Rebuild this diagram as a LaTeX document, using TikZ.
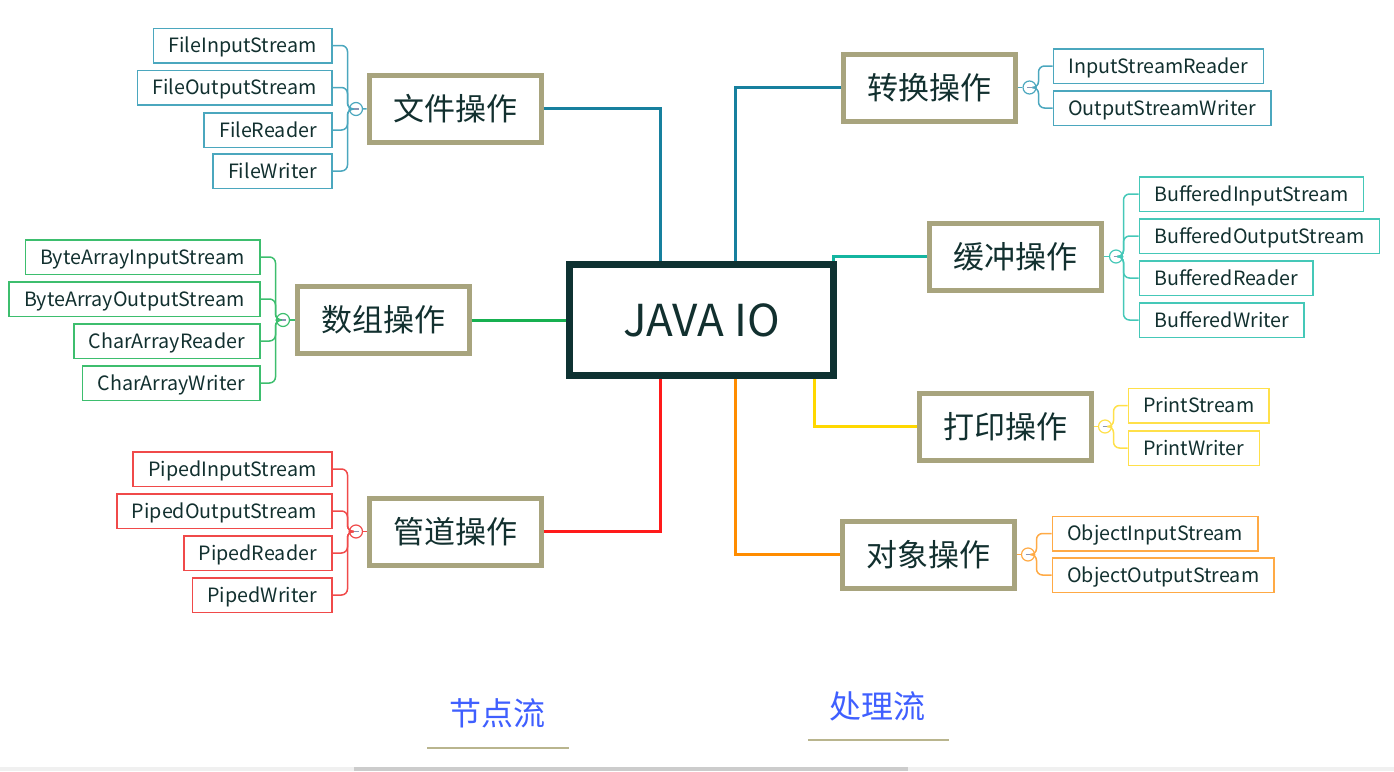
\documentclass[tikz,border=0pt]{standalone}
\usepackage{fontspec}
\setmainfont{Noto Sans CJK SC}
\usetikzlibrary{positioning,calc}

\definecolor{rootline}{HTML}{0E3232}
\definecolor{topicline}{HTML}{A8A47E}
\definecolor{inktext}{HTML}{12302F}
\definecolor{fileblue}{HTML}{17809E}
\definecolor{fileleaf}{HTML}{4BA7BE}
\definecolor{arraygreen}{HTML}{16B050}
\definecolor{arrayleaf}{HTML}{3DBE6E}
\definecolor{pipered}{HTML}{FF1A1A}
\definecolor{pipeleaf}{HTML}{F04A4A}
\definecolor{buffteal}{HTML}{14B5A0}
\definecolor{buffleaf}{HTML}{45C8B8}
\definecolor{printyellow}{HTML}{FFD800}
\definecolor{printleaf}{HTML}{FFE04A}
\definecolor{objorange}{HTML}{FF8C00}
\definecolor{objleaf}{HTML}{FFAA45}
\definecolor{flowblue}{HTML}{3F5FFF}
\definecolor{flowline}{HTML}{B9B58E}
\definecolor{minusgray}{HTML}{8A94B4}

\newcommand{\foldmark}{\textcolor{minusgray}{\rule{5pt}{1.2pt}}}

\begin{document}
\begin{tikzpicture}[
    x=1pt, y=-1pt,
    root/.style={rectangle, draw=rootline, line width=7pt, minimum width=264pt, minimum height=111pt, font=\fontsize{44}{48}\selectfont, text=inktext},
    topic/.style={rectangle, draw=topicline, line width=5pt, fill=white, minimum width=172pt, minimum height=67pt, font=\fontsize{31}{34}\selectfont, text=inktext},
    leaf/.style={rectangle, draw=#1, line width=1.5pt, minimum height=34.5pt, inner xsep=15pt, text height=14.4pt, text depth=0pt, font=\fontsize{19.7}{22}\selectfont, text=inktext},
    fold/.style={circle, draw=#1, line width=1.2pt, fill=white, minimum size=13pt, inner sep=0pt},
    branch/.style={line width=3pt, draw=#1},
    twig/.style={line width=1.5pt, draw=#1, rounded corners=6pt},
    flow/.style={font=\fontsize{32}{36}\selectfont, text=flowblue}
]
\useasboundingbox (0,0) rectangle (1394,771);

% centre and main topics
\node[root] (root) at (701.5,320) {JAVA IO};
\node[topic] (file) at (455,108.5) {文件操作};
\node[topic] (array) at (383,320) {数组操作};
\node[topic] (pipe) at (455,531.5) {管道操作};
\node[topic] (conv) at (929.5,87.5) {转换操作};
\node[topic] (buff) at (1015.5,256.5) {缓冲操作};
\node[topic] (print) at (1005.5,426.5) {打印操作};
\node[topic] (object) at (928.5,554.5) {对象操作};

\draw[branch=fileblue] (file.east) -| ([xshift=-41.5pt]root.north);
\draw[branch=arraygreen] (array.east) -- (root.west);
\draw[branch=pipered] (pipe.east) -| ([xshift=-41.5pt]root.south);
\draw[branch=fileblue] (conv.west) -| ([xshift=33.5pt]root.north);
\draw[branch=buffteal] (buff.west) -| ([xshift=131.5pt]root.north);
\draw[branch=printyellow] (print.west) -| ([xshift=112.5pt]root.south);
\draw[branch=objorange] (object.west) -| ([xshift=33.5pt]root.south);

% fold circles
\node[fold=fileleaf] (filefold) at (356,109) {\foldmark};
\node[fold=arrayleaf] (arrayfold) at (283,320) {\foldmark};
\node[fold=pipeleaf] (pipefold) at (356,531.5) {\foldmark};
\node[fold=fileleaf] (convfold) at (1029.5,87.5) {\foldmark};
\node[fold=buffleaf] (bufffold) at (1116,256.5) {\foldmark};
\node[fold=printleaf] (printfold) at (1105,426.5) {\foldmark};
\node[fold=objleaf] (objectfold) at (1028,554.5) {\foldmark};

\draw[twig=fileleaf] (filefold) -- (file);
\draw[twig=arrayleaf] (arrayfold) -- (array);
\draw[twig=pipeleaf] (pipefold) -- (pipe);
\draw[twig=fileleaf] (convfold) -- (conv);
\draw[twig=buffleaf] (bufffold) -- (buff);
\draw[twig=printleaf] (printfold) -- (print);
\draw[twig=objleaf] (objectfold) -- (object);

% leaves, left side
\foreach \name/\y [count=\i] in {FileInputStream/45.5, FileOutputStream/87.5, FileReader/130, FileWriter/171}{
    \node[leaf=fileleaf, anchor=east] (file\i) at (332.5,\y) {\name};
    \draw[twig=fileleaf] (file\i.east) -- ++(15,0) |- (filefold);
}
\foreach \name/\y [count=\i] in {ByteArrayInputStream/257, ByteArrayOutputStream/299, CharArrayReader/341, CharArrayWriter/383}{
    \node[leaf=arrayleaf, anchor=east] (array\i) at (260.5,\y) {\name};
    \draw[twig=arrayleaf] (array\i.east) -- ++(15,0) |- (arrayfold);
}
\foreach \name/\y [count=\i] in {PipedInputStream/469, PipedOutputStream/511, PipedReader/553, PipedWriter/595}{
    \node[leaf=pipeleaf, anchor=east] (pipe\i) at (332.5,\y) {\name};
    \draw[twig=pipeleaf] (pipe\i.east) -- ++(15,0) |- (pipefold);
}

% leaves, right side
\foreach \name/\y [count=\i] in {InputStreamReader/66, OutputStreamWriter/108}{
    \node[leaf=fileleaf, anchor=west] (conv\i) at (1052.5,\y) {\name};
    \draw[twig=fileleaf] (conv\i.west) -- ++(-14,0) |- (convfold);
}
\foreach \name/\y [count=\i] in {BufferedInputStream/194, BufferedOutputStream/236, BufferedReader/278, BufferedWriter/320}{
    \node[leaf=buffleaf, anchor=west] (buff\i) at (1138.5,\y) {\name};
    \draw[twig=buffleaf] (buff\i.west) -- ++(-15,0) |- (bufffold);
}
\foreach \name/\y [count=\i] in {PrintStream/405.5, PrintWriter/448}{
    \node[leaf=printleaf, anchor=west] (print\i) at (1127.5,\y) {\name};
    \draw[twig=printleaf] (print\i.west) -- ++(-14,0) |- (printfold);
}
\foreach \name/\y [count=\i] in {ObjectInputStream/533.5, ObjectOutputStream/575}{
    \node[leaf=objleaf, anchor=west] (object\i) at (1051.5,\y) {\name};
    \draw[twig=objleaf] (object\i.west) -- ++(-15,0) |- (objectfold);
}

% legend at the bottom
\node[flow] (node) at (497,713) {节点流};
\node[flow] (proc) at (877,706) {处理流};
\draw[flowline, line width=2pt] (427,747.5) -- (569,747.5);
\draw[flowline, line width=2pt] (808,740) -- (949,740);

% scroll bar
\fill[black!6] (0,767) rectangle (1394,771);
\fill[black!20] (354,767) rectangle (908,771);
\end{tikzpicture}
\end{document}
